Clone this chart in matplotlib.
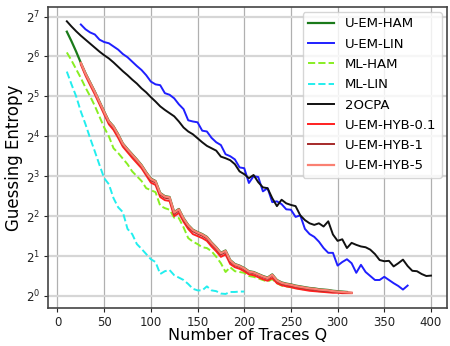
# Guessing entropy versus number of traces, log2 y axis

import numpy as np
import matplotlib
matplotlib.use('Agg')
import matplotlib.pyplot as plt

# %%
# Values (y stored as log2 of the guessing entropy)
x_ocpa = list(range(10, 401, 5))
ge_ocpa = [6.88, 6.75, 6.63, 6.52, 6.42, 6.32, 6.22, 6.12, 6.03, 5.95,
           5.85, 5.74, 5.63, 5.53, 5.42, 5.32, 5.20, 5.10, 4.98, 4.87,
           4.75, 4.66, 4.58, 4.50, 4.37, 4.22, 4.12, 4.05, 3.95, 3.85,
           3.76, 3.70, 3.64, 3.49, 3.45, 3.40, 3.30, 3.12, 3.05, 2.95,
           3.03, 2.85, 2.72, 2.70, 2.45, 2.25, 2.41, 2.32, 2.28, 2.25,
           2.02, 1.90, 1.82, 1.78, 1.82, 1.74, 1.87, 1.54, 1.38, 1.42,
           1.20, 1.33, 1.28, 1.24, 1.22, 1.16, 1.05, 0.90, 0.87, 0.88,
           0.74, 0.82, 0.91, 0.75, 0.63, 0.62, 0.55, 0.50, 0.51]

x_lin = list(range(25, 376, 5))
ge_lin = [6.80, 6.68, 6.60, 6.55, 6.42, 6.36, 6.33, 6.25, 6.17, 6.06,
          5.98, 5.87, 5.76, 5.66, 5.53, 5.37, 5.30, 5.28, 5.08, 5.04,
          4.95, 4.80, 4.68, 4.40, 4.37, 4.35, 4.14, 4.12, 3.96, 3.85,
          3.78, 3.55, 3.50, 3.42, 3.22, 3.20, 2.83, 3.00, 2.98, 2.62,
          2.70, 2.35, 2.37, 2.30, 2.17, 2.16, 1.98, 2.02, 1.68, 1.55,
          1.48, 1.36, 1.20, 1.08, 1.08, 0.76, 0.85, 0.92, 0.82, 0.58,
          0.78, 0.60, 0.50, 0.40, 0.40, 0.48, 0.40, 0.32, 0.25, 0.16,
          0.26]

x_ham = list(range(10, 311, 5))
ge_ham = [6.62, 6.38, 6.12, 5.84, 5.58, 5.35, 5.12, 4.87, 4.62, 4.38,
          4.25, 4.05, 3.82, 3.68, 3.55, 3.42, 3.28, 3.10, 2.94, 2.88,
          2.58, 2.50, 2.48, 2.10, 2.18, 1.95, 1.78, 1.66, 1.60, 1.55,
          1.48, 1.34, 1.22, 1.08, 1.14, 0.90, 0.80, 0.76, 0.70, 0.62,
          0.60, 0.55, 0.50, 0.46, 0.54, 0.40, 0.34, 0.31, 0.29, 0.26,
          0.24, 0.22, 0.20, 0.19, 0.17, 0.16, 0.15, 0.13, 0.12, 0.11,
          0.10]

x_ml_ham = list(range(10, 291, 5))
ge_ml_ham = [6.10, 5.90, 5.68, 5.46, 5.22, 5.00, 4.76, 4.49, 4.22, 4.00,
             3.70, 3.58, 3.44, 3.30, 3.12, 3.00, 2.88, 2.70, 2.65, 2.60,
             2.26, 2.20, 2.16, 1.96, 1.95, 1.72, 1.45, 1.36, 1.30, 1.22,
             1.20, 1.12, 0.98, 0.82, 0.60, 0.72, 0.62, 0.60, 0.58, 0.50,
             0.48, 0.44, 0.40, 0.36, 0.42, 0.32, 0.26, 0.24, 0.22, 0.20,
             0.18, 0.16, 0.15, 0.14, 0.12, 0.11, 0.10]

x_ml_lin = list(range(10, 201, 5))
ge_ml_lin = [5.62, 5.30, 5.00, 4.62, 4.30, 3.95, 3.62, 3.28, 2.95, 2.80,
             2.45, 2.22, 2.10, 1.68, 1.55, 1.30, 1.18, 1.05, 0.92, 0.85,
             0.55, 0.62, 0.65, 0.52, 0.46, 0.40, 0.30, 0.18, 0.14, 0.14,
             0.24, 0.14, 0.12, 0.06, 0.05, 0.10, 0.10, 0.11, 0.11]

x_hyb = list(range(25, 316, 5))
ge_hyb01 = [5.80, 5.52, 5.28, 5.05, 4.80, 4.55, 4.30, 4.16, 3.96, 3.74,
            3.60, 3.46, 3.33, 3.20, 3.02, 2.84, 2.78, 2.48, 2.40, 2.38,
            2.00, 2.08, 1.86, 1.68, 1.55, 1.50, 1.45, 1.38, 1.24, 1.12,
            0.98, 1.04, 0.80, 0.72, 0.68, 0.62, 0.54, 0.52, 0.47, 0.42,
            0.38, 0.45, 0.32, 0.27, 0.24, 0.22, 0.19, 0.17, 0.15, 0.13,
            0.12, 0.11, 0.10, 0.09, 0.08, 0.08, 0.07, 0.07, 0.07]
ge_hyb1 = [5.83, 5.56, 5.33, 5.10, 4.85, 4.60, 4.35, 4.22, 4.02, 3.79,
           3.65, 3.52, 3.39, 3.25, 3.07, 2.90, 2.84, 2.54, 2.46, 2.44,
           2.06, 2.14, 1.91, 1.74, 1.62, 1.56, 1.51, 1.44, 1.30, 1.18,
           1.04, 1.10, 0.86, 0.77, 0.73, 0.67, 0.59, 0.57, 0.52, 0.47,
           0.43, 0.51, 0.37, 0.31, 0.28, 0.26, 0.23, 0.21, 0.19, 0.17,
           0.16, 0.14, 0.13, 0.12, 0.11, 0.10, 0.09, 0.09, 0.08]
ge_hyb5 = [5.84, 5.57, 5.34, 5.11, 4.86, 4.61, 4.37, 4.24, 4.04, 3.81,
           3.67, 3.54, 3.41, 3.27, 3.09, 2.93, 2.87, 2.57, 2.49, 2.47,
           2.09, 2.17, 1.94, 1.77, 1.65, 1.59, 1.54, 1.47, 1.33, 1.21,
           1.07, 1.13, 0.89, 0.79, 0.75, 0.69, 0.61, 0.59, 0.54, 0.49,
           0.45, 0.53, 0.39, 0.33, 0.30, 0.28, 0.25, 0.23, 0.21, 0.19,
           0.18, 0.16, 0.15, 0.14, 0.12, 0.11, 0.10, 0.09, 0.08]

# %%
fig = plt.figure(figsize=(4.5, 3.46), dpi=100)
ax = fig.add_axes([0.107, 0.110, 0.886, 0.870])


def pw(v):
    return np.power(2.0, np.array(v))


ax.plot(x_ham, pw(ge_ham), color='#1a7a1a', lw=1.6, label='U-EM-HAM')
ax.plot(x_lin, pw(ge_lin), color='#1f1fff', lw=1.4, label='U-EM-LIN')
ax.plot(x_ml_ham, pw(ge_ml_ham), color='#88ee22', lw=1.4, ls='--', label='ML-HAM')
ax.plot(x_ml_lin, pw(ge_ml_lin), color='#22eeee', lw=1.4, ls='--', label='ML-LIN')
ax.plot(x_ocpa, pw(ge_ocpa), color='#111111', lw=1.4, label='2OCPA')
ax.plot(x_hyb, pw(ge_hyb01), color='#ff2020', lw=1.4, label='U-EM-HYB-0.1')
ax.plot(x_hyb, pw(ge_hyb1), color='#a52a2a', lw=1.4, label='U-EM-HYB-1')
ax.plot(x_hyb, pw(ge_hyb5), color='#fa8072', lw=1.6, label='U-EM-HYB-5')

ax.set_yscale('log', base=2)
ax.set_xlim(-10, 417)
ax.set_ylim(2 ** -0.3, 2 ** 7.24)
ax.set_xticks([0, 50, 100, 150, 200, 250, 300, 350, 400])
ax.set_yticks([2 ** k for k in range(0, 8)])
ax.minorticks_off()
ax.tick_params(labelsize=8.5, colors='#222222', length=3, pad=2.5)

ax.xaxis.grid(True, color='#b0b0b0', lw=0.9)
ax.yaxis.grid(True, color='#d6d6d6', lw=1.6)
ax.set_axisbelow(True)
for s in ax.spines.values():
    s.set_color('#444444')
    s.set_linewidth(1.2)

ax.set_xlabel('Number of Traces Q', fontsize=11.5, labelpad=-0.5)
ax.set_ylabel('Guessing Entropy', fontsize=12, labelpad=2)

ax.legend(loc='upper right', fontsize=9.5, framealpha=0.8, handlelength=2.0,
          borderaxespad=0.4, labelspacing=0.55)

fig.savefig('out.png', dpi=100)
